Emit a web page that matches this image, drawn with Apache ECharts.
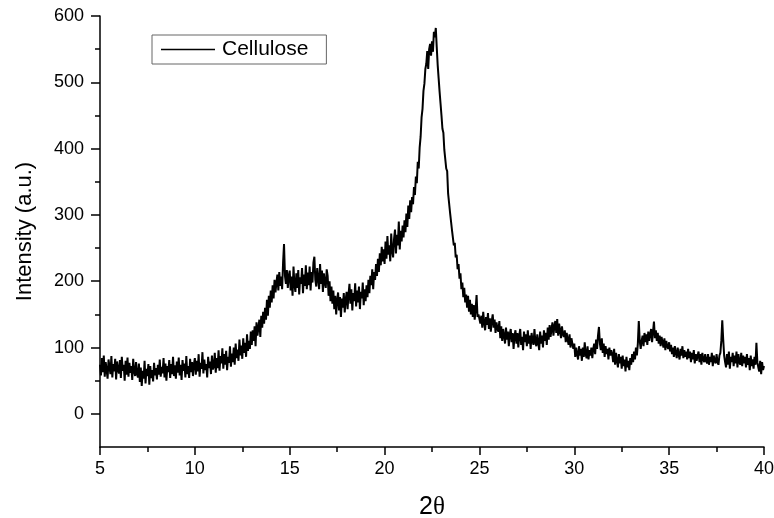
<!DOCTYPE html>
<html>
<head>
<meta charset="utf-8">
<script src="https://cdn.jsdelivr.net/npm/echarts@6/dist/echarts.min.js"></script>
<style>
  html, body { margin: 0; padding: 0; background: #fff; }
  #chart { width: 774px; height: 518px; }
</style>
</head>
<body>
<div id="chart"></div>
<script>
// 2θ sampling: 5.00 .. 40.00 every 0.05 degree
const angleStart = 5;
const angleStep = 0.05;

// intensity, one row per degree
const intensity = [
  74, 58, 84, 63, 88, 56, 78, 66, 53, 82, 71, 60, 87, 55, 75, 64, 83, 52, 79, 67,           // 5
  61, 81, 54, 86, 65, 74, 50, 80, 59, 85, 56, 77, 62, 72, 51, 83, 64, 57, 78, 60,           // 6
  55, 76, 48, 70, 42, 65, 53, 80, 46, 68, 57, 75, 44, 72, 54, 66, 49, 77, 58, 69,           // 7
  52, 74, 59, 82, 56, 71, 61, 84, 55, 76, 50, 72, 63, 81, 54, 75, 60, 86, 57, 73,           // 8
  53, 79, 62, 85, 58, 74, 51, 81, 65, 76, 55, 87, 60, 72, 54, 83, 63, 78, 57, 75,           // 9
  84, 59, 80, 64, 90, 56, 77, 68, 93, 61, 82, 66, 75, 55, 86, 69, 79, 60, 88, 67,           // 10
  72, 92, 62, 84, 69, 96, 65, 87, 76, 99, 68, 90, 74, 95, 66, 86, 77, 102, 71, 91,          // 11
  78, 100, 74, 106, 84, 97, 80, 112, 88, 103, 83, 114, 92, 107, 86, 120, 95, 110, 98, 124,  // 12
  104, 126, 110, 132, 102, 138, 118, 130, 142, 116, 148, 130, 154, 136, 160, 142, 172, 148, 178, 160, // 13
  186, 168, 194, 174, 202, 183, 198, 210, 186, 214, 193, 207, 188, 228, 256, 208, 196, 217, 190, 208, // 14
  216, 186, 207, 178, 222, 194, 184, 212, 190, 217, 180, 206, 196, 220, 182, 210, 193, 224, 188, 213, // 15
  194, 222, 186, 214, 198, 228, 237, 202, 192, 220, 204, 188, 226, 196, 216, 184, 212, 198, 190, 218, // 16
  208, 178, 200, 170, 192, 166, 186, 158, 178, 150, 172, 183, 156, 176, 146, 174, 160, 182, 153, 172, // 17
  184, 158, 180, 196, 166, 188, 156, 182, 170, 197, 162, 186, 168, 192, 158, 184, 174, 198, 164, 188, // 18
  170, 194, 176, 202, 182, 208, 194, 218, 188, 214, 202, 226, 208, 234, 214, 242, 224, 252, 230, 248, // 19
  226, 260, 234, 268, 240, 254, 230, 272, 246, 236, 264, 278, 242, 270, 254, 290, 248, 276, 260, 284, // 20
  266, 292, 274, 302, 282, 314, 294, 322, 304, 327, 316, 342, 330, 358, 348, 380, 370, 402, 418, 447, // 21
  460, 487, 498, 520, 528, 547, 520, 550, 558, 540, 562, 546, 576, 568, 582, 553, 526, 506, 486, 468, // 22
  450, 430, 424, 398, 396, 370, 366, 332, 330, 304, 306, 278, 276, 254, 258, 236, 240, 218, 226, 204, // 23
  212, 188, 198, 176, 190, 168, 180, 160, 178, 154, 172, 150, 166, 146, 164, 142, 158, 179, 146, 150, // 24
  152, 136, 148, 130, 154, 138, 126, 146, 134, 152, 128, 144, 124, 140, 150, 130, 142, 122, 138, 128, // 25
  124, 140, 114, 132, 110, 128, 118, 106, 130, 112, 124, 102, 120, 128, 108, 122, 98, 118, 126, 106,  // 26
  122, 100, 118, 128, 104, 116, 96, 124, 108, 120, 102, 126, 106, 118, 98, 122, 110, 104, 128, 108,   // 27
  102, 120, 108, 96, 124, 106, 118, 100, 126, 110, 122, 104, 130, 112, 134, 116, 128, 138, 118, 132,  // 28
  140, 122, 143, 118, 136, 126, 114, 132, 120, 116, 126, 108, 122, 112, 104, 120, 100, 114, 106, 98,  // 29
  106, 86, 100, 90, 82, 102, 88, 98, 80, 100, 86, 108, 90, 84, 102, 82, 96, 88, 100, 84,    // 30
  98, 106, 90, 112, 98, 118, 131, 106, 96, 114, 92, 106, 86, 102, 90, 98, 82, 100, 88, 96,  // 31
  90, 78, 98, 74, 92, 80, 70, 90, 76, 86, 68, 88, 72, 82, 64, 86, 70, 80, 66, 84,           // 32
  74, 90, 78, 94, 82, 100, 88, 106, 140, 110, 98, 110, 118, 102, 122, 108, 120, 104, 124, 110, // 33
  120, 128, 108, 124, 139, 114, 126, 110, 122, 106, 118, 102, 116, 108, 100, 114, 96, 110, 102, 98,  // 34
  108, 94, 104, 90, 100, 86, 102, 92, 84, 100, 90, 82, 98, 88, 102, 84, 96, 86, 94, 82,     // 35
  98, 84, 94, 78, 92, 82, 96, 76, 90, 80, 88, 94, 78, 90, 74, 92, 82, 78, 90, 80,           // 36
  76, 90, 74, 86, 78, 92, 72, 88, 80, 76, 90, 78, 74, 88, 92, 110, 141, 112, 88, 78,        // 37
  70, 90, 74, 94, 68, 86, 78, 92, 72, 88, 76, 94, 70, 90, 78, 74, 92, 72, 88, 76,           // 38
  86, 70, 90, 74, 84, 66, 88, 72, 82, 68, 86, 74, 107, 78, 70, 64, 80, 60, 78, 66,          // 39
  72                                                                                         // 40
];

const yMajorTicks = [0, 100, 200, 300, 400, 500, 600];
const yMinorTicks = [50, 150, 250, 350, 450, 550];

const seriesName = 'Cellulose';

let points = intensity.map((v, i) => [+(angleStart + i * angleStep).toFixed(2), v]);

let myChart = echarts.init(document.getElementById('chart'));
let axisColor = '#000';
let font = 'Liberation Sans, Arial, sans-serif';

let option = {
  animation: false,
  backgroundColor: '#fff',
  grid: {
    left: 100,
    right: 10,
    top: 16,
    bottom: 71,
    containLabel: false,
    outerBoundsMode: 'none'
  },
  legend: {
    data: [{ name: seriesName, icon: 'rect' }],
    left: 152,
    top: 35,
    padding: [4, 18, 4, 9],
    borderColor: '#666',
    borderWidth: 1,
    itemWidth: 54,
    itemHeight: 1.5,
    itemGap: 0,
    itemStyle: { color: '#000' },
    textStyle: { fontFamily: font, fontSize: 21, color: '#000', padding: [0, 0, 0, 2] }
  },
  xAxis: {
    type: 'value',
    min: 5,
    max: 40,
    interval: 5,
    name: '{n|2}{t|θ}',
    nameLocation: 'middle',
    nameGap: 48,
    nameTextStyle: {
      rich: {
        n: { fontFamily: font, fontSize: 25, color: '#000' },
        t: { fontFamily: 'Liberation Serif, serif', fontSize: 25, color: '#000' }
      }
    },
    axisLine: { onZero: false, lineStyle: { color: axisColor, width: 1.5 } },
    axisTick: { length: 8, lineStyle: { color: axisColor, width: 1.5 } },
    minorTick: { show: true, splitNumber: 2, length: 5, lineStyle: { color: axisColor, width: 1.5 } },
    axisLabel: { margin: 13, fontFamily: font, fontSize: 18, color: '#000' },
    splitLine: { show: false },
    minorSplitLine: { show: false }
  },
  yAxis: [{
    type: 'value',
    min: -50,
    max: 600,
    position: 'left',
    name: 'Intensity (a.u.)',
    nameLocation: 'middle',
    nameGap: 64,
    nameTextStyle: { fontFamily: font, fontSize: 22, color: '#000' },
    axisLine: { show: true, onZero: false, lineStyle: { color: axisColor, width: 1.5 } },
    axisTick: { show: true, length: 9, customValues: yMajorTicks, lineStyle: { color: axisColor, width: 1.5 } },
    axisLabel: { margin: 16, customValues: yMajorTicks, fontFamily: font, fontSize: 18, color: '#000' },
    splitLine: { show: false }
  }, {
    type: 'value',
    min: -50,
    max: 600,
    position: 'left',
    offset: 0,
    axisLine: { show: false },
    axisTick: { show: true, length: 5, customValues: yMinorTicks, lineStyle: { color: axisColor, width: 1.5 } },
    axisLabel: { show: false },
    splitLine: { show: false }
  }],
  series: [{
    name: seriesName,
    type: 'line',
    yAxisIndex: 0,
    data: points,
    symbol: 'none',
    showSymbol: false,
    lineStyle: { color: '#000', width: 2 },
    itemStyle: { color: '#000' }
  }]
};
myChart.setOption(option);
</script>
</body>
</html>
